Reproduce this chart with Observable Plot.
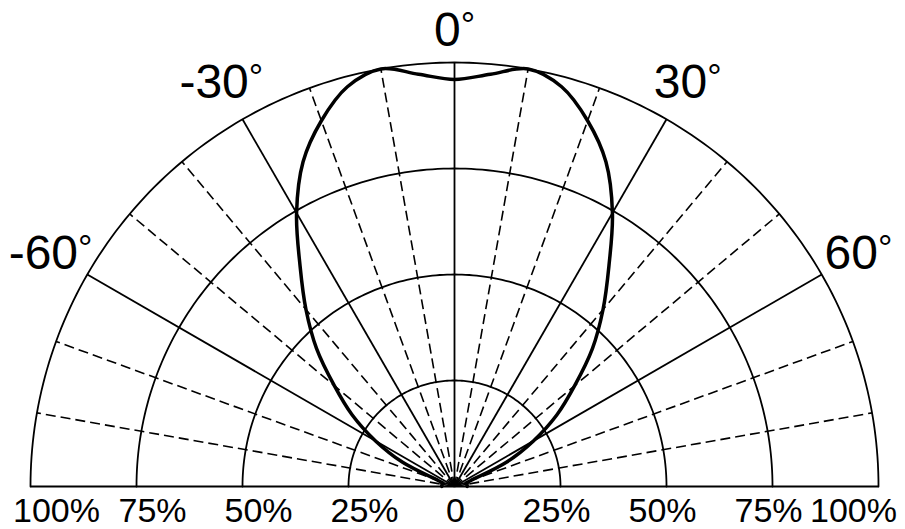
<!DOCTYPE html>
<html><head><meta charset="utf-8">
<script src="https://cdn.jsdelivr.net/npm/d3@7"></script>
<script src="https://cdn.jsdelivr.net/npm/@observablehq/plot@0.6"></script>
<style>body{margin:0;background:#fff}</style>
</head><body><div id="chart"></div>
<script>
// ---- data ----
const angleTicks = [-60, -30, 0, 30, 60];
const angleTickLabels = ["-60°", "-30°", "0°", "30°", "60°"];
const ringPercents = [25, 50, 75, 100];
const radialTicks = [-100, -75, -50, -25, 0, 25, 50, 75, 100];
const radialTickLabels = ["100%", "75%", "50%", "25%", "0", "25%", "50%", "75%", "100%"];
const solidSpokes = [-90, -60, -30, 0, 30, 60, 90];
const dashedSpokes = [-80, -70, -50, -40, -20, -10, 10, 20, 40, 50, 70, 80];
const patternAngles = [0, 5, 10, 15, 20, 25, 30, 35, 40, 45, 50, 55, 60, 65, 70, 75, 80, 85, 90];
const patternValues = [96, 97.6, 100, 97.6, 91.8, 84.5, 74.5, 63.5, 54.5, 46, 37, 29.5, 21.5, 13.5, 4, 2.6, 2.9, 3, 3];

// ---- geometry helpers ----
const rad = d => d * Math.PI / 180;
const polar = (deg, r) => ({x: r * Math.sin(rad(deg)), y: r * Math.cos(rad(deg))});

const curvePts = [];
for (let i = patternAngles.length - 1; i > 0; i--) curvePts.push(polar(-patternAngles[i], patternValues[i]));
for (let i = 0; i < patternAngles.length; i++) curvePts.push(polar(patternAngles[i], patternValues[i]));

// small side lobes near ±90°, drawn filled
const lobePts = [1, -1].flatMap(s => patternAngles.map((a, i) => ({side: s, a, ...polar(s * a, patternValues[i])})).filter(d => d.a >= 70));

const ringPts = ringPercents.flatMap(r => d3.range(-90, 90.5, 1).map(a => ({ring: r, ...polar(a, r)})));
const spokes = list => list.map(a => { const p = polar(a, 100); return {x1: 0, y1: 0, x2: p.x, y2: p.y}; });

const angleLabelData = angleTicks.map((a, i) => ({...polar(a, a === 0 ? 107.5 : 110), label: angleTickLabels[i]}));
const tickLabelData = radialTicks.map((v, i) => ({x: v, y: 0, label: radialTickLabels[i]}));
const tl = (f, dx) => Plot.text(tickLabelData.filter(d => f(d.x)), {x: "x", y: "y", text: "label", fontSize: 34, dy: 25, dx, fill: "black"});

const chart = Plot.plot({
  width: 905, height: 529,
  marginLeft: 30, marginRight: 27, marginTop: 62, marginBottom: 43,
  x: {domain: [-100, 100], axis: null},
  y: {domain: [0, 100], axis: null},
  style: {fontFamily: "'Liberation Sans', Arial, sans-serif", background: "white", color: "black"},
  marks: [
    Plot.line(ringPts, {x: "x", y: "y", z: "ring", stroke: "black", strokeWidth: 1.8}),
    Plot.link(spokes(dashedSpokes), {x1: "x1", y1: "y1", x2: "x2", y2: "y2", stroke: "black", strokeWidth: 1.6, strokeDasharray: "10,5"}),
    Plot.link(spokes(solidSpokes), {x1: "x1", y1: "y1", x2: "x2", y2: "y2", stroke: "black", strokeWidth: 1.8}),
    Plot.line(lobePts, {x: "x", y: "y", z: "side", fill: "black", stroke: "black", strokeWidth: 2, curve: "catmull-rom"}),
    Plot.line(curvePts, {x: "x", y: "y", stroke: "black", strokeWidth: 3.5, curve: "catmull-rom"}),
    Plot.text(angleLabelData, {x: "x", y: "y", text: "label", fontSize: 48, fill: "black"}),
    tl(v => v === -100, 26),
    tl(v => v < 0 && v > -100, 16),
    tl(v => v === 0, 1),
    tl(v => v > 0 && v < 100, -4),
    tl(v => v === 100, -25)
  ]
});
document.getElementById("chart").appendChild(chart);

// render the degree sign smaller and raised, as in the original
chart.querySelectorAll("text").forEach(t => {
  const s = t.textContent;
  if (t.childElementCount === 0 && s.endsWith("°")) {
    t.textContent = s.slice(0, -1);
    const ts = document.createElementNS("http://www.w3.org/2000/svg", "tspan");
    ts.setAttribute("font-size", "36");
    ts.setAttribute("dy", "-8");
    ts.textContent = "°";
    t.appendChild(ts);
  }
});
</script>
</body></html>
